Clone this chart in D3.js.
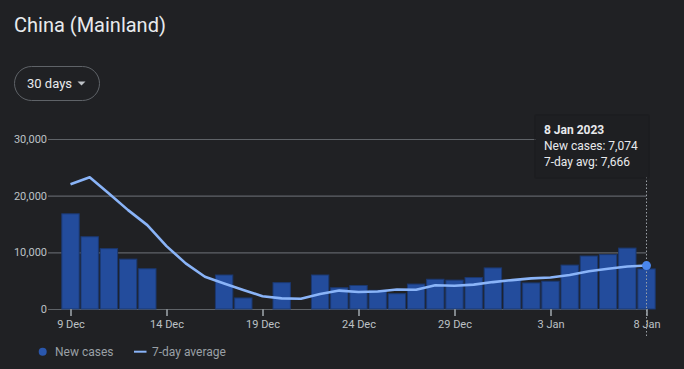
<!DOCTYPE html>
<html><head><meta charset="utf-8">
<script src="https://cdn.jsdelivr.net/npm/d3@7/dist/d3.min.js"></script>
<style>
html,body{margin:0;padding:0;background:#202124;}
svg{display:block;font-family:Roboto, Arial, sans-serif;}
</style></head>
<body><svg id="c" width="684" height="369"></svg>
<script>
const startDate = "2022-12-09";
const newCases = [16800,12750,10650,8800,7100,0,0,0,6000,1950,0,4650,0,6000,3750,4150,3300,2700,4400,5250,5100,5550,7250,5100,4600,4900,7750,9350,9600,10750,7074];
const avg7 = [22000,23250,20400,17450,14800,11100,8050,5700,4500,3350,2250,1880,1820,2650,3250,3000,3100,3450,3400,4200,4100,4300,4750,5100,5400,5550,6000,6650,7100,7500,7666];
const yTicks = [0,10000,20000,30000];
const legendLabels = ["New cases","7-day average"];
const tooltipLines = ["8 Jan 2023","New cases: 7,074","7-day avg: 7,666"];

const parse = d3.timeParse("%Y-%m-%d");
const t0 = parse(startDate);
const dates = newCases.map((_, i) => d3.timeDay.offset(t0, i));
const svg = d3.select("#c");
svg.append("rect").attr("width",684).attr("height",369).attr("fill","#202124");

// title
svg.append("text").attr("x",14).attr("y",32).attr("fill","#e8eaed")
  .attr("font-size",20).text("China (Mainland)");
// dropdown
svg.append("rect").attr("x",14.5).attr("y",66.5).attr("width",85).attr("height",34).attr("rx",17)
  .attr("fill","none").attr("stroke","#5f6368");
svg.append("text").attr("x",27).attr("y",88).attr("fill","#e8eaed").attr("font-size",13).text("30 days");
svg.append("path").attr("d","M77.5,81.5 L85.5,81.5 L81.5,85.5 Z").attr("fill","#bdc1c6");

const x = d3.scaleTime().domain([dates[0], dates[dates.length-1]]).range([70.5, 646.5]);
const y = d3.scaleLinear().domain([0,30000]).range([309,139]);

// gridlines
const yAxis = d3.axisLeft(y).tickValues(yTicks).tickSize(-(646.5-48)).tickFormat(d3.format(","));
const gy = svg.append("g").attr("transform","translate(48,0)").call(yAxis);
gy.select(".domain").remove();
gy.selectAll(".tick line").attr("stroke","#5f6368").attr("stroke-width",1.2);
gy.selectAll(".tick text").attr("x",-1).attr("fill","#bdc1c6").attr("font-size",11).attr("font-family","Roboto, Arial, sans-serif");

// bars
const bw = 17.4;
svg.append("g").selectAll("rect").data(newCases.map((v,i)=>({v,d:dates[i]})).filter(o=>o.v>0))
  .join("rect")
  .attr("x",o=>x(o.d)-bw/2).attr("width",bw)
  .attr("y",o=>y(o.v)).attr("height",o=>y(0)-y(o.v))
  .attr("fill","#234c9c").attr("stroke","#1b3870").attr("stroke-width",1);

// x axis
const xAxis = d3.axisBottom(x).tickValues(dates.filter((d,i)=>i%5===0))
  .tickSize(7).tickFormat(d3.timeFormat("%-d %b"));
const gx = svg.append("g").attr("transform","translate(0,309)").call(xAxis);
gx.select(".domain").remove();
gx.selectAll(".tick line").attr("stroke","#80868b").attr("stroke-width",2);
gx.selectAll(".tick text").attr("y",11).attr("fill","#bdc1c6").attr("font-size",11).attr("font-family","Roboto, Arial, sans-serif");

// line
const line = d3.line().x((d,i)=>x(dates[i])).y(d=>y(d));
svg.append("path").datum(avg7).attr("d",line).attr("fill","none")
  .attr("stroke","#8ab4f8").attr("stroke-width",2.6).attr("stroke-linejoin","round");

// hover line
const lastD = dates[dates.length-1];
svg.append("line").attr("x1",x(lastD)).attr("x2",x(lastD)).attr("y1",177).attr("y2",337)
  .attr("stroke","#9aa0a6").attr("stroke-width",1).attr("stroke-dasharray","1.5,2");
svg.append("circle").attr("cx",x(lastD)).attr("cy",y(avg7[avg7.length-1])).attr("r",4.5).attr("fill","#4a86ec");

// tooltip
const tt = svg.append("g");
tt.append("rect").attr("x",534).attr("y",114).attr("width",116).attr("height",65).attr("rx",3)
  .attr("fill","#1a1b1e").attr("opacity",0.6);
tt.append("rect").attr("x",536).attr("y",116).attr("width",112).attr("height",61)
  .attr("fill","#1e1f22");
tooltipLines.forEach((t,i)=>{
  tt.append("text").attr("x",544).attr("y",134+i*16).attr("fill","#e8eaed")
    .attr("font-size",12).attr("font-weight",i===0?"bold":"normal").text(t);
});

// legend
svg.append("circle").attr("cx",42.7).attr("cy",351.7).attr("r",4).attr("fill","#2a57ad");
svg.append("text").attr("x",55).attr("y",356).attr("fill","#9aa0a6").attr("font-size",12).text(legendLabels[0]);
svg.append("line").attr("x1",134).attr("x2",146.5).attr("y1",351.7).attr("y2",351.7).attr("stroke","#8ab4f8").attr("stroke-width",2);
svg.append("text").attr("x",152).attr("y",356).attr("fill","#9aa0a6").attr("font-size",12).text(legendLabels[1]);
</script></body></html>
